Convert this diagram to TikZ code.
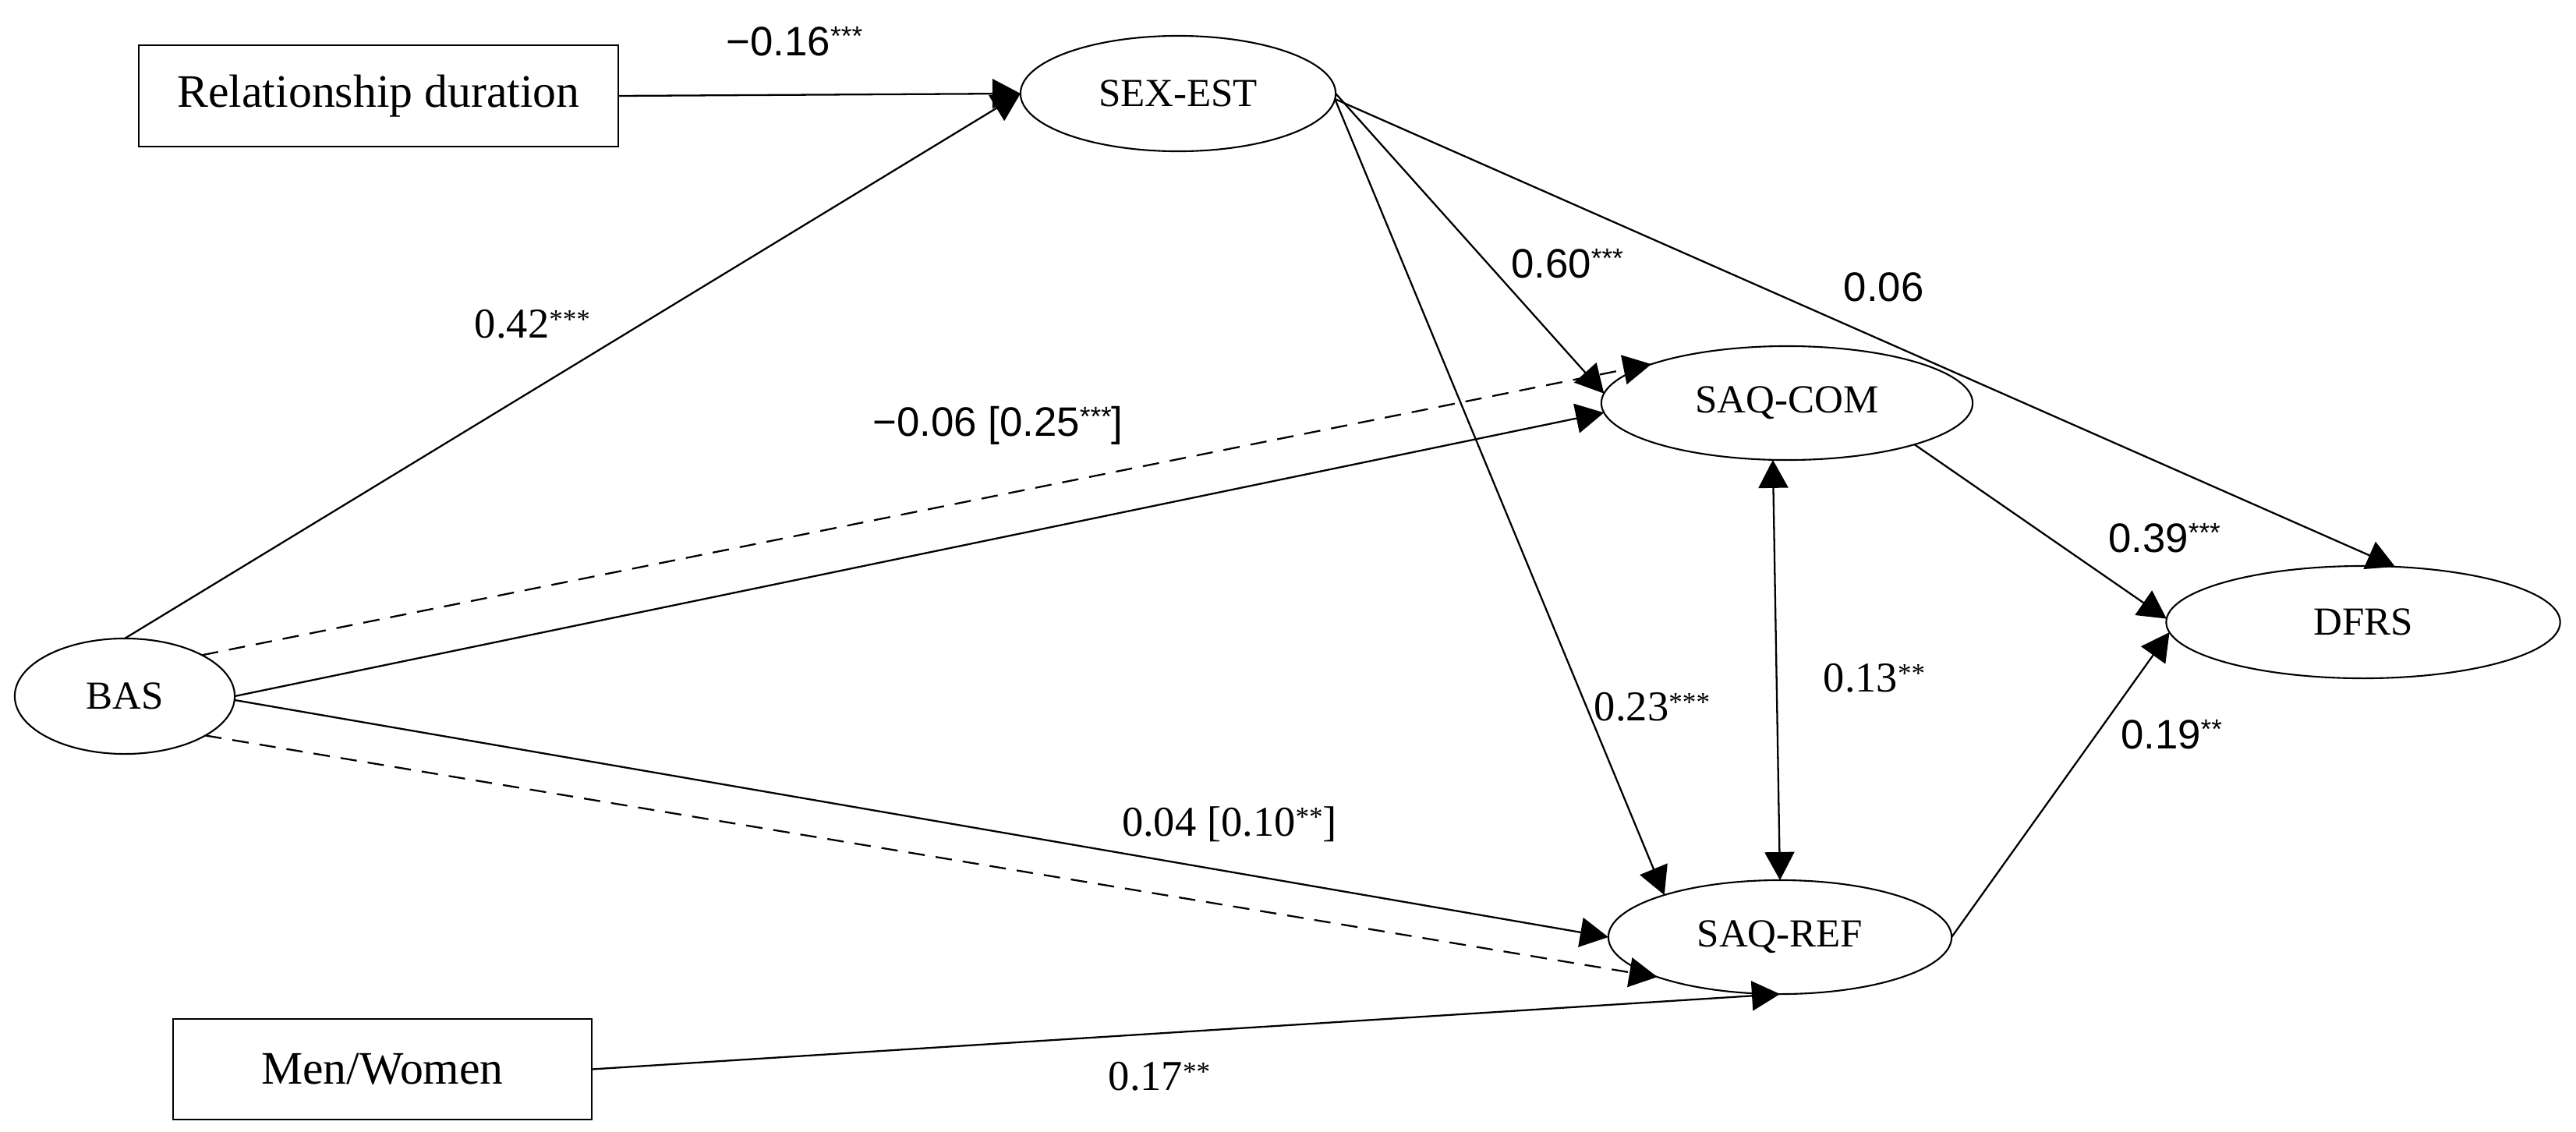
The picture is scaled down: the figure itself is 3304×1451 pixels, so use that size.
\documentclass[tikz,border=0pt]{standalone}
\usepackage{fontspec}
\setmainfont{Liberation Serif}
\newfontfamily\numsans{Liberation Sans}
\usetikzlibrary{arrows.meta,shapes.geometric}
\newcommand{\sigstars}[1]{\raisebox{3.6pt}{\fontsize{10}{10}\selectfont #1}}
\begin{document}
\begin{tikzpicture}[x=0.01cm,y=-0.01cm,
  every node/.style={inner sep=0pt,outer sep=0pt},
  boxnode/.style={draw,line width=0.7pt,rectangle,font=\fontsize{17}{20}\selectfont},
  latent/.style={draw,line width=0.6pt,ellipse,font=\fontsize{14.5}{17}\selectfont},
  conn/.style={line width=0.65pt,-{Triangle[length=0.36cm,width=0.38cm]}},
  dconn/.style={conn,dash pattern=on 6pt off 4pt},
  both/.style={line width=0.65pt,{Triangle[length=0.36cm,width=0.38cm]}-{Triangle[length=0.36cm,width=0.38cm]}},
  lblserif/.style={font=\fontsize{15.5}{18}\selectfont},
  lblsans/.style={font=\numsans\fontsize{15}{18}\selectfont}
]
\useasboundingbox (0,0) rectangle (3304,1451);
% nodes
\node[boxnode,minimum width=6.15cm,minimum height=1.30cm] (rd) at (485.5,123) {Relationship duration};
\node[boxnode,minimum width=5.37cm,minimum height=1.29cm] (mw) at (490.5,1371.5) {Men/Women};
\node[latent,minimum width=4.04cm,minimum height=1.48cm] (sexest) at (1511,120) {SEX-EST};
\node[latent,minimum width=2.82cm,minimum height=1.48cm] (bas) at (160,893) {BAS};
\node[latent,minimum width=4.76cm,minimum height=1.46cm] (saqcom) at (2292,517) {SAQ-COM};
\node[latent,minimum width=4.40cm,minimum height=1.46cm] (saqref) at (2283,1202) {SAQ-REF};
\node[latent,minimum width=5.05cm,minimum height=1.44cm] (dfrs) at (3031,798) {DFRS};
% connectors
\draw[conn] (rd.east) -- (sexest.west);
\draw[conn] (bas.north) -- (sexest.west);
\draw[dconn] (bas.28) -- (saqcom.164);
\draw[conn] (bas.east) -- (saqcom.183);
\draw[conn] (sexest.east) -- (saqcom.177);
\draw[conn] (sexest.358) -- (saqref.160);
\draw[conn] (sexest.358) -- (dfrs.60);
\draw[both] (saqcom.256) -- (saqref.north);
\draw[conn] (saqcom.342) -- (dfrs.179);
\draw[conn] (saqref.east) -- (dfrs.183);
\draw[conn] (bas.358) -- (saqref.west);
\draw[dconn] (bas.334) -- (saqref.198);
\draw[conn] (mw.east) -- (saqref.south);
% labels
\node[lblsans] (l1) at (1019,53) {−0.16\sigstars{***}};
\node[lblserif] (l2) at (683,416) {0.42\sigstars{***}};
\node[lblsans] (l3) at (1280,546) {−0.06 [0.25\sigstars{***}]};
\node[lblsans] (l4) at (2010,338) {0.60\sigstars{***}};
\node[lblsans] (l5) at (2416,368) {0.06};
\node[lblserif] (l6) at (2119,907) {0.23\sigstars{***}};
\node[lblserif] (l7) at (2404,870) {0.13\sigstars{**}};
\node[lblsans] (l8) at (2776,690) {0.39\sigstars{***}};
\node[lblsans] (l9) at (2785,942) {0.19\sigstars{**}};
\node[lblserif] (l10) at (1577,1057) {0.04 [0.10\sigstars{**}]};
\node[lblserif] (l11) at (1487,1381) {0.17\sigstars{**}};
\end{tikzpicture}
\end{document}
